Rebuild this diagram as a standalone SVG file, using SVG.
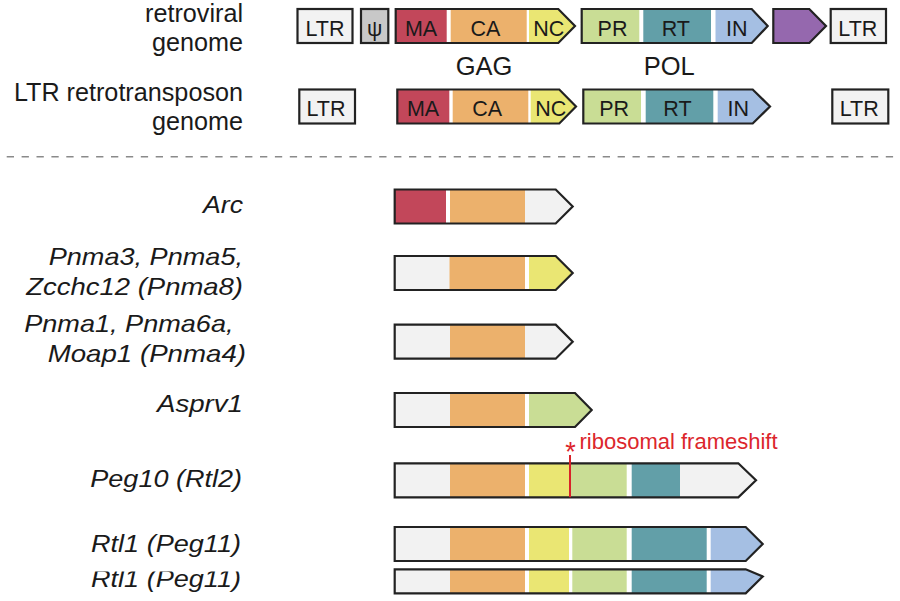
<svg xmlns="http://www.w3.org/2000/svg" width="900" height="601" viewBox="0 0 900 601">
<style>
.s{stroke:#222;stroke-width:2.2;stroke-linejoin:miter}
.n{fill:none}
.ma{fill:#c2475a}.ca{fill:#ecb16c}.nc{fill:#eae673}.pr{fill:#c9dd95}.rt{fill:#629fa8}.in{fill:#a5bfe3}.gy{fill:#f2f2f2}.pu{fill:#9568ae}.ps{fill:#c8c8c8}
.bl{font-family:"Liberation Sans",Arial,sans-serif;font-size:21.5px;fill:#1a1a1a;text-anchor:middle}
.big{font-family:"Liberation Sans",Arial,sans-serif;font-size:25.5px;fill:#1a1a1a;text-anchor:middle}
.hd{font-family:"Liberation Sans",Arial,sans-serif;font-size:25.2px;fill:#1a1a1a;text-anchor:end}
.it{font-family:"Liberation Sans",Arial,sans-serif;font-size:24px;font-style:italic;fill:#1a1a1a;text-anchor:end}
.red{font-family:"Liberation Sans",Arial,sans-serif;font-size:22px;fill:#dc262c}
</style>
<defs>
<clipPath id="cutTop"><rect x="0" y="571.5" width="900" height="40"/></clipPath>
</defs>
<rect width="900" height="601" fill="#fff"/>

<!-- header labels -->
<g id="label-retroviral">
<text class="hd" x="243" y="22">retroviral</text>
<text class="hd" x="243" y="50.5">genome</text>
</g>
<g id="label-ltr-retro">
<text class="hd" x="243" y="101">LTR retrotransposon</text>
<text class="hd" x="243" y="130">genome</text>
</g>

<!-- retroviral genome row -->
<g id="rv-ltr5">
<rect class="gy s" x="297.5" y="9" width="55" height="34"/>
<text class="bl" x="325" y="36">LTR</text>
</g>
<g id="rv-psi">
<rect class="ps s" x="361" y="9" width="27.3" height="34"/>
<text class="bl" x="374.7" y="36">ψ</text>
</g>
<g id="rv-gag">
<rect class="ma" x="395.7" y="9" width="51" height="34"/>
<rect class="ca" x="450.7" y="9" width="76" height="34"/>
<polygon class="nc" points="529,9 558.3,9 575,26 558.3,43 529,43"/>
<path class="s n" d="M395.7,9 H558.3 L575,26 L558.3,43 H395.7 Z"/>
<text class="bl" x="421" y="36">MA</text>
<text class="bl" x="485.5" y="36">CA</text>
<text class="bl" x="548.8" y="36">NC</text>
</g>
<g id="rv-pol">
<rect class="pr" x="581.7" y="9" width="57.6" height="34"/>
<rect class="rt" x="643.3" y="9" width="67.7" height="34"/>
<polygon class="in" points="715.5,9 751.7,9 767.7,26 751.7,43 715.5,43"/>
<path class="s n" d="M581.7,9 H751.7 L767.7,26 L751.7,43 H581.7 Z"/>
<text class="bl" x="612.5" y="36">PR</text>
<text class="bl" x="675.8" y="36">RT</text>
<text class="bl" x="736.7" y="36">IN</text>
</g>
<g id="rv-env">
<polygon class="pu s" points="773.3,9 809.3,9 826,26 809.3,43 773.3,43"/>
</g>
<g id="rv-ltr3">
<rect class="gy s" x="830.7" y="9" width="55.3" height="34"/>
<text class="bl" x="857.8" y="36">LTR</text>
</g>
<g id="gag-label"><text class="big" x="484" y="74.5">GAG</text></g>
<g id="pol-label"><text class="big" x="669.2" y="74.5">POL</text></g>

<!-- LTR retrotransposon row -->
<g id="lr-ltr5">
<rect class="gy s" x="299.3" y="89.5" width="55.7" height="34"/>
<text class="bl" x="326" y="116">LTR</text>
</g>
<g id="lr-gag">
<rect class="ma" x="397.3" y="89.5" width="52" height="34"/>
<rect class="ca" x="452.7" y="89.5" width="75.6" height="34"/>
<polygon class="nc" points="530.7,89.5 559.3,89.5 576,106.5 559.3,123.5 530.7,123.5"/>
<path class="s n" d="M397.3,89.5 H559.3 L576,106.5 L559.3,123.5 H397.3 Z"/>
<text class="bl" x="423" y="116">MA</text>
<text class="bl" x="487.2" y="116">CA</text>
<text class="bl" x="550.8" y="116">NC</text>
</g>
<g id="lr-pol">
<rect class="pr" x="583.3" y="89.5" width="57.7" height="34"/>
<rect class="rt" x="645.7" y="89.5" width="67.6" height="34"/>
<polygon class="in" points="717.7,89.5 752.7,89.5 770,106.5 752.7,123.5 717.7,123.5"/>
<path class="s n" d="M583.3,89.5 H752.7 L770,106.5 L752.7,123.5 H583.3 Z"/>
<text class="bl" x="614.2" y="116">PR</text>
<text class="bl" x="677.5" y="116">RT</text>
<text class="bl" x="738.3" y="116">IN</text>
</g>
<g id="lr-ltr3">
<rect class="gy s" x="832.3" y="89.5" width="56" height="34"/>
<text class="bl" x="859.2" y="116">LTR</text>
</g>

<g id="annotations">
<line x1="6.7" y1="156.7" x2="900" y2="156.7" stroke="#8a8a8a" stroke-width="1.6" stroke-dasharray="7.3 7.6"/>
</g>

<!-- Arc -->
<g id="arc">
<text class="it" x="243" y="213.3" textLength="40" lengthAdjust="spacingAndGlyphs">Arc</text>
<rect class="ma" x="394.7" y="189.5" width="51.3" height="34"/>
<rect class="ca" x="450" y="189.5" width="75" height="34"/>
<polygon class="gy" points="525,189.5 555.7,189.5 572.7,206.5 555.7,223.5 525,223.5"/>
<path class="s n" d="M394.7,189.5 H555.7 L572.7,206.5 L555.7,223.5 H394.7 Z"/>
</g>

<!-- Pnma3 -->
<g id="pnma3">
<text class="it" x="243" y="265" textLength="194.3" lengthAdjust="spacingAndGlyphs">Pnma3, Pnma5,</text>
<text class="it" x="243" y="295" textLength="216.7" lengthAdjust="spacingAndGlyphs">Zcchc12 (Pnma8)</text>
<rect class="gy" x="394.7" y="256" width="55" height="34"/>
<rect class="ca" x="449.5" y="256" width="75.5" height="34"/>
<polygon class="nc" points="529,256 555.7,256 572.7,273 555.7,290 529,290"/>
<path class="s n" d="M394.7,256 H555.7 L572.7,273 L555.7,290 H394.7 Z"/>
</g>

<!-- Pnma1 -->
<g id="pnma1">
<text class="it" x="233.5" y="332" textLength="209.3" lengthAdjust="spacingAndGlyphs">Pnma1, Pnma6a,</text>
<text class="it" x="246" y="362" textLength="198.3" lengthAdjust="spacingAndGlyphs">Moap1 (Pnma4)</text>
<rect class="gy" x="394.7" y="324.7" width="55.3" height="34"/>
<rect class="ca" x="450" y="324.7" width="75" height="34"/>
<polygon class="gy" points="525,324.7 555.7,324.7 572.7,341.7 555.7,358.7 525,358.7"/>
<path class="s n" d="M394.7,324.7 H555.7 L572.7,341.7 L555.7,358.7 H394.7 Z"/>
</g>

<!-- Asprv1 -->
<g id="asprv1">
<text class="it" x="243" y="412" textLength="86" lengthAdjust="spacingAndGlyphs">Asprv1</text>
<rect class="gy" x="394.7" y="393" width="55.3" height="34"/>
<rect class="ca" x="450" y="393" width="75" height="34"/>
<polygon class="pr" points="529,393 575,393 591.7,410 575,427 529,427"/>
<path class="s n" d="M394.7,393 H575 L591.7,410 L575,427 H394.7 Z"/>
</g>

<!-- Peg10 -->
<g id="peg10">
<text class="it" x="242" y="487" textLength="151.7" lengthAdjust="spacingAndGlyphs">Peg10 (Rtl2)</text>
<rect class="gy" x="394.7" y="463.3" width="55.3" height="34"/>
<rect class="ca" x="450" y="463.3" width="75" height="34"/>
<rect class="nc" x="529" y="463.3" width="41" height="34"/>
<rect class="pr" x="570" y="463.3" width="56.7" height="34"/>
<rect class="rt" x="631.7" y="463.3" width="48.3" height="34"/>
<polygon class="gy" points="680,463.3 738.3,463.3 756,480.3 738.3,497.3 680,497.3"/>
<path class="s n" d="M394.7,463.3 H738.3 L756,480.3 L738.3,497.3 H394.7 Z"/>
</g>
<g id="frameshift">
<line x1="570" y1="455" x2="570" y2="497.3" stroke="#d8232a" stroke-width="2"/>
<text class="red" x="570.5" y="461" text-anchor="middle" style="font-size:27px">*</text>
<text class="red" x="579.5" y="449.3">ribosomal frameshift</text>
</g>

<!-- Rtl1 -->
<g id="rtl1">
<text class="it" x="241" y="551.7" textLength="150" lengthAdjust="spacingAndGlyphs">Rtl1 (Peg11)</text>
<rect class="gy" x="394.7" y="527" width="55.3" height="34"/>
<rect class="ca" x="450" y="527" width="75" height="34"/>
<rect class="nc" x="529" y="527" width="40" height="34"/>
<rect class="pr" x="572.3" y="527" width="54.4" height="34"/>
<rect class="rt" x="631.7" y="527" width="75" height="34"/>
<polygon class="in" points="710.7,527 745.7,527 762.7,544 745.7,561 710.7,561"/>
<path class="s n" d="M394.7,527 H745.7 L762.7,544 L745.7,561 H394.7 Z"/>
</g>

<!-- Rtl1 duplicate, cut at top -->
<g id="rtl1-b">
<text class="it" x="241" y="587" textLength="150" lengthAdjust="spacingAndGlyphs" clip-path="url(#cutTop)">Rtl1 (Peg11)</text>
<rect class="gy" x="394.7" y="569.3" width="55.3" height="24"/>
<rect class="ca" x="450" y="569.3" width="75" height="24"/>
<rect class="nc" x="529" y="569.3" width="40" height="24"/>
<rect class="pr" x="572.3" y="569.3" width="54.4" height="24"/>
<rect class="rt" x="631.7" y="569.3" width="75" height="24"/>
<polygon class="in" points="710.7,569.3 745.7,569.3 762.7,576.5 745.7,593.3 710.7,593.3"/>
<path class="s n" d="M394.7,569.3 H745.7 L762.7,576.5 L745.7,593.3 H394.7 Z"/>
</g>
</svg>
